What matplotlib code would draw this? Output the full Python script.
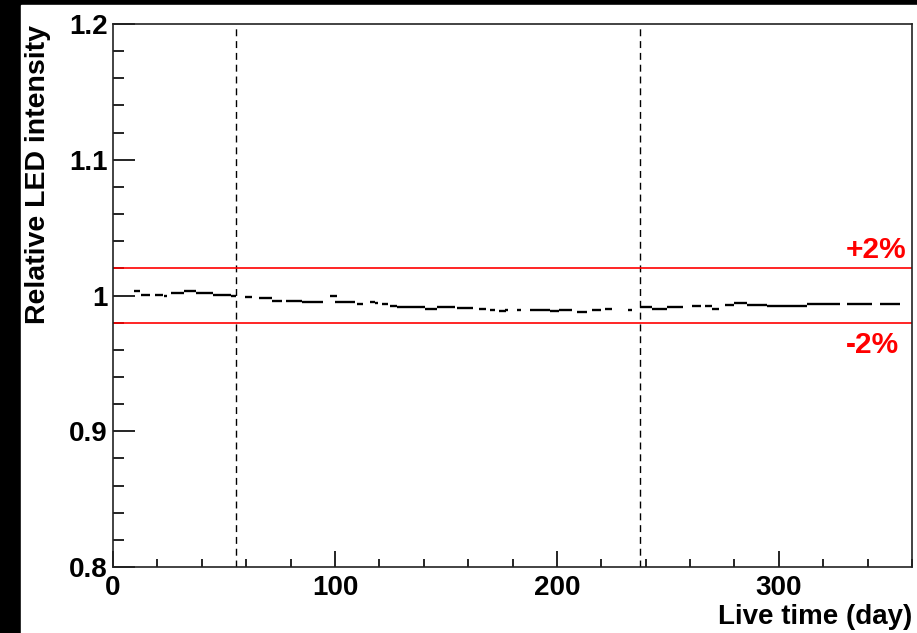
import numpy as np
import matplotlib.pyplot as plt
from matplotlib.patches import Rectangle
from matplotlib.ticker import MultipleLocator

# LED intensity stability, relative to start of run
# each entry: bin start (day), bin end (day), relative intensity
day_lo = [9.3, 12.6, 19.0, 23.0, 26.0, 32.0, 37.5, 45.0, 53.0,
          59.5, 66.0, 71.6, 78.0, 85.0, 97.7, 100.0, 110.0, 116.0,
          118.0, 121.0, 125.0, 128.0, 133.0, 140.5, 146.0, 155.0, 165.0, 170.0, 174.0,
          176.5, 182.0, 188.0, 197.0, 201.0, 209.0, 216.0, 221.6, 232.0,
          237.4, 243.0, 249.5, 261.0, 266.7, 270.0, 275.7, 280.0, 285.6, 294.6,
          305.0, 312.6, 321.6, 330.6, 345.5]
day_hi = [12.0, 16.5, 22.5, 24.5, 32.0, 37.5, 45.0, 53.0, 55.5,
          62.6, 71.6, 76.0, 85.0, 94.6, 101.0, 109.0, 112.6, 118.0,
          119.4, 124.0, 128.0, 133.0, 140.5, 146.0, 154.0, 162.0, 168.0, 172.0, 177.0,
          178.0, 184.0, 197.0, 201.0, 207.0, 213.5, 220.0, 225.0, 234.0,
          243.0, 249.5, 257.0, 265.0, 270.0, 273.0, 280.0, 285.6, 294.6, 305.0,
          312.6, 321.6, 327.5, 342.0, 354.5]
intensity = [1.0035, 1.0002, 1.0007, 1.0000, 1.0020, 1.0030, 1.0017, 1.0005, 0.9993,
             0.9990, 0.9978, 0.9963, 0.9958, 0.9950, 1.0000, 0.9950, 0.9934, 0.9950,
             0.9946, 0.9936, 0.9926, 0.9912, 0.9912, 0.9904, 0.9912, 0.9906, 0.9904, 0.9890, 0.9887,
             0.9890, 0.9890, 0.9895, 0.9887, 0.9890, 0.9880, 0.9890, 0.9897, 0.9890,
             0.9912, 0.9900, 0.9912, 0.9921, 0.9926, 0.9904, 0.9930, 0.9946, 0.9931, 0.9924,
             0.9926, 0.9934, 0.9936, 0.9941, 0.9937]

# period boundaries and tolerance band
periods = [55.5, 237.5]
band = [0.98, 1.02]

plt.rcParams['font.family'] = ['Liberation Sans', 'DejaVu Sans']
plt.rcParams['font.weight'] = 'bold'

fig = plt.figure(figsize=(9.17, 6.33), dpi=100)
fig.patch.set_facecolor('black')
fig.add_artist(Rectangle((21 / 917, 0), 1, (633 - 5) / 633,
                         transform=fig.transFigure, color='white', zorder=-1))

ax = fig.add_axes([113 / 917, (633 - 567) / 633, (912 - 113) / 917, (567 - 24) / 633])
ax.set_facecolor('white')

ax.hlines(intensity, day_lo, day_hi, colors='black', linewidth=1.7)

for d in periods:
    ax.axvline(d, color='black', linewidth=1.0, linestyle=(0, (5, 3.5)))
for b in band:
    ax.axhline(b, color='red', linewidth=1.2)

ax.text(330.2, 1.0338, '+2%', color='red', fontsize=21.5, fontweight='bold',
        ha='left', va='center')
ax.text(330.2, 0.9637, '-2%', color='red', fontsize=21.5, fontweight='bold',
        ha='left', va='center')

ax.set_xlim(0, 360)
ax.set_ylim(0.8, 1.2)
ax.xaxis.set_major_locator(MultipleLocator(100))
ax.xaxis.set_minor_locator(MultipleLocator(20))
ax.yaxis.set_minor_locator(MultipleLocator(0.02))
ax.set_yticks([0.8, 0.9, 1.0, 1.1, 1.2])
ax.set_yticklabels(['0.8', '0.9', '1', '1.1', '1.2'])

ax.tick_params(axis='x', which='major', direction='in', length=11.5, width=1.2,
               labelsize=20, pad=6)
ax.tick_params(axis='x', which='minor', direction='in', length=5.8, width=1.2)
ax.tick_params(axis='y', which='major', direction='in', length=15.8, width=1.2,
               labelsize=20, pad=4)
ax.tick_params(axis='y', which='minor', direction='in', length=7.9, width=1.2)
for s in ax.spines.values():
    s.set_linewidth(1.2)
    s.set_color('#222222')

ax.set_xlabel('Live time (day)', fontsize=20, fontweight='bold', loc='right', labelpad=2)
fig.text(38 / 917, 1 - 25 / 633, 'Relative LED intensity', rotation=90,
         fontsize=20.5, fontweight='bold', ha='center', va='top')

fig.savefig('out.png', dpi=100, facecolor=fig.get_facecolor())
